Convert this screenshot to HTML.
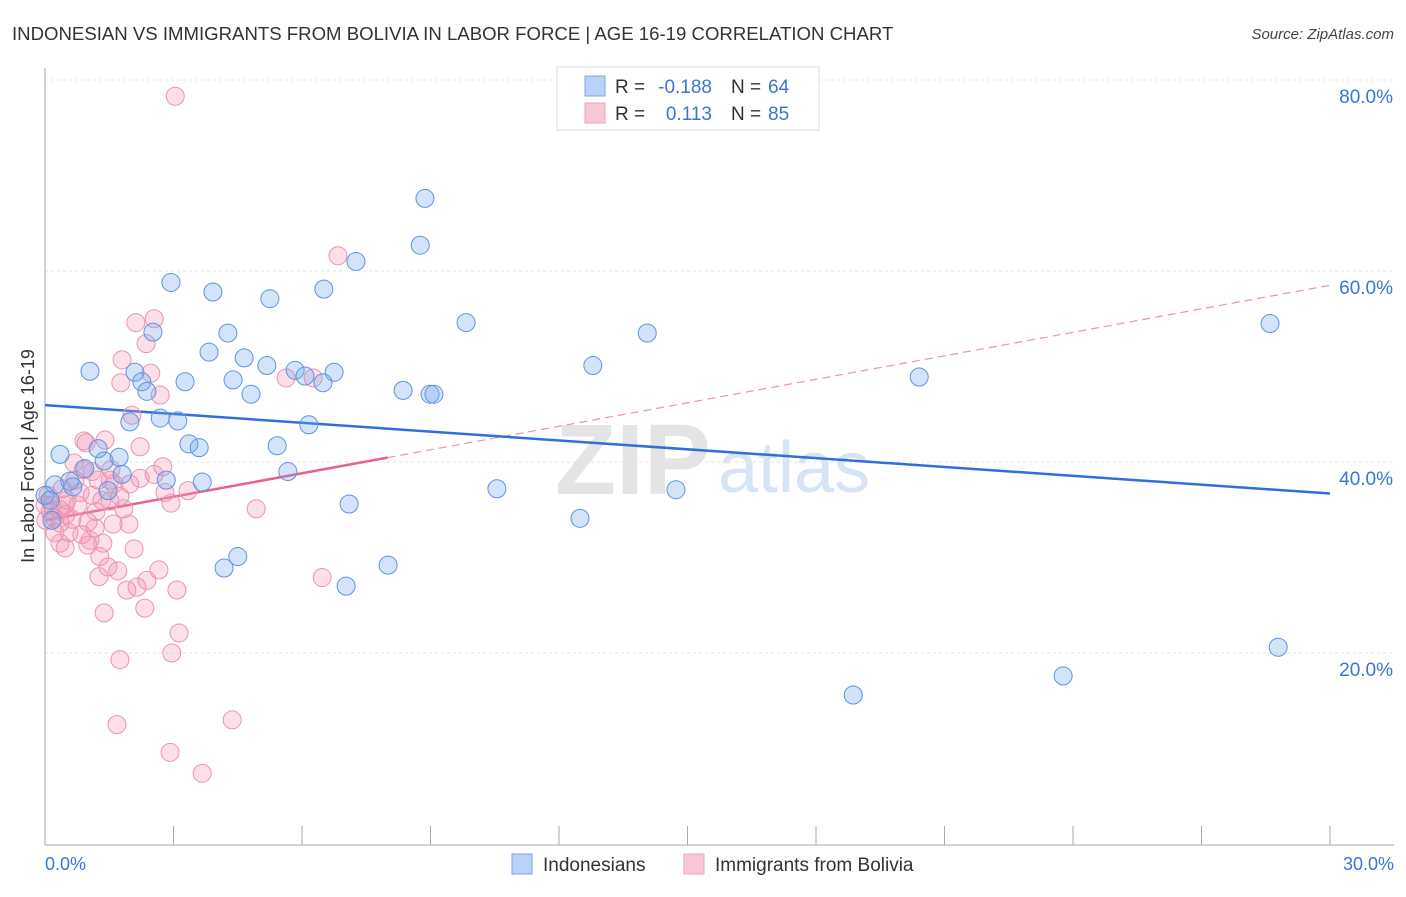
<!DOCTYPE html>
<html><head><meta charset="utf-8"><style>
body{margin:0;background:#fff;font-family:"Liberation Sans",sans-serif;}
svg text{font-family:"Liberation Sans",sans-serif;}
</style></head><body>
<svg id="chart" width="1406" height="892" viewBox="0 0 1406 892" xmlns="http://www.w3.org/2000/svg">
<text x="12" y="40" font-size="18.6" fill="#333">INDONESIAN VS IMMIGRANTS FROM BOLIVIA IN LABOR FORCE | AGE 16-19 CORRELATION CHART</text>
<text x="1394" y="39" font-size="15" fill="#444" font-style="italic" text-anchor="end">Source: ZipAtlas.com</text>
<g>
<text x="555" y="494" font-size="100" fill="#e4e4e4" font-family="Liberation Serif" font-weight="bold">ZIP</text>
<text x="718" y="492" font-size="72" fill="#d6e4f6">atlas</text>
</g>
<g id="grid"></g>
<g id="axes"></g>
<g id="trends"></g>
<g id="points"></g>
<text transform="translate(34,456) rotate(-90)" font-size="18" fill="#333" text-anchor="middle">In Labor Force | Age 16-19</text>
<text x="45" y="870" font-size="18" fill="#3a75d6">0.0%</text>
<text x="1394" y="870" font-size="18" fill="#3a75d6" text-anchor="end">30.0%</text>
<g>
<rect x="557" y="67" width="262" height="63" fill="#fff" stroke="#ddd"/>
<rect x="585" y="76" width="20" height="20" fill="#b8d3f7" stroke="#7aa7e6"/>
<rect x="585" y="103" width="20" height="20" fill="#f9c6d6" stroke="#eea0b8"/>
<text x="615" y="93" font-size="19" fill="#333">R =</text>
<text x="712" y="93" font-size="19" fill="#3a75d6" text-anchor="end">-0.188</text>
<text x="731" y="93" font-size="19" fill="#333">N =</text>
<text x="768" y="93" font-size="19" fill="#3a75d6">64</text>
<text x="615" y="120" font-size="19" fill="#333">R =</text>
<text x="712" y="120" font-size="19" fill="#3a75d6" text-anchor="end">0.113</text>
<text x="731" y="120" font-size="19" fill="#333">N =</text>
<text x="768" y="120" font-size="19" fill="#3a75d6">85</text>
</g>
<g>
<rect x="512" y="854" width="20" height="20" fill="#b8d3f7" stroke="#7aa7e6"/>
<text x="543" y="871" font-size="19" fill="#333">Indonesians</text>
<rect x="684" y="854" width="20" height="20" fill="#f9c6d6" stroke="#eea0b8"/>
<text x="715" y="871" font-size="19" fill="#333">Immigrants from Bolivia</text>
</g>
</svg>
<script>
const yTicks=[20,40,60,80];
const yTickLabels=["20.0%","40.0%","60.0%","80.0%"];
const xTicks=[3,6,9,12,15,18,21,24,27,30];
const blueX=[2.94,3.92,5.25,6.51,7.26,8.76,8.87,2.52,4.27,3.83,4.65,5.18,5.84,6.07,6.75,6.49,1.05,2.1,2.26,2.38,3.27,4.39,4.81,8.36,8.99,9.08,9.83,12.79,14.06,20.41,28.6,1.98,2.69,3.1,6.16,3.36,3.6,5.42,0.35,1.24,1.38,1.73,1.8,0.93,5.67,2.83,3.67,0.58,0.23,0.65,1.47,10.55,14.73,7.1,12.49,0,0.12,0.16,4.5,4.18,8.01,7.03,18.87,23.77,28.79];
const blueY=[58.8,57.8,57.1,58.1,61.0,62.7,67.6,53.6,53.5,51.5,50.9,50.1,49.6,49.0,49.4,48.3,49.5,49.4,48.4,47.4,48.4,48.6,47.1,47.5,47.1,47.1,54.6,50.1,53.5,48.9,54.5,44.2,44.6,44.3,43.9,41.9,41.5,41.7,40.8,41.4,40.1,40.5,38.7,39.3,39.0,38.1,37.9,38.0,37.6,37.4,37.0,37.2,37.1,35.6,34.1,36.5,36.0,33.9,30.1,28.9,29.2,27.0,15.6,17.6,20.6];
const pinkX=[3.04,6.84,2.55,2.12,2.36,1.8,2.47,1.77,2.69,2.03,0.91,0.96,2.22,0.68,1.54,2.75,2.55,1.98,3.34,1.61,1.10,1.33,1.52,2.8,2.94,0.89,1.24,4.93,5.63,6.26,0.07,0.16,0.35,0.49,0.63,0.02,0.23,0.47,1.19,1.84,1.0,1.59,1.96,0.56,0.86,0.35,0.47,1.05,1.35,2.08,1.0,1.28,1.47,1.26,1.7,2.66,2.38,2.15,1.91,3.08,2.33,1.38,3.13,2.96,1.75,1.68,2.92,3.67,4.37,6.47,1.4,0.7,0.35,0.12,0.77,1.17,1.52,2.22,1.75,0.51,0.23,0,1.1,0.4,0.82];
const pinkY=[78.3,61.6,55.0,54.6,52.4,50.7,49.3,48.3,47.0,44.9,42.2,42.0,41.6,39.9,39.2,39.5,38.7,37.7,37.0,37.7,36.5,36.0,35.9,36.8,35.7,39.2,38.1,35.1,48.8,48.8,36.5,35.5,35.0,34.5,34.0,33.9,34.1,35.5,34.8,35.1,33.7,33.5,33.5,32.6,32.4,31.5,31.0,31.8,31.5,30.9,31.3,30.1,29.0,28.0,28.6,28.7,27.6,26.9,26.6,26.6,24.7,24.2,22.1,20.0,19.3,12.5,9.6,7.4,13.0,27.9,42.3,38.1,33.6,34.8,35.5,33.1,38.1,38.3,36.4,36.0,32.6,35.5,39.0,37.2,36.8];
const blueTrend=[45.96,36.7];
const pinkTrend=[33.9,58.5];
const pinkSolidEnd=8;

const NS="http://www.w3.org/2000/svg";
const X=v=>45+v*1285/30;
const Y=v=>844-v*9.55;
function mk(tag,attrs,parent){const e=document.createElementNS(NS,tag);for(const k in attrs)e.setAttribute(k,attrs[k]);parent.appendChild(e);return e;}
const grid=document.getElementById('grid'),axes=document.getElementById('axes'),tr=document.getElementById('trends'),pts=document.getElementById('points');
yTicks.forEach((t,i)=>{
  const l=mk('line',{x1:45,x2:1394,y1:Y(t),y2:Y(t),stroke:'#e3e3e3','stroke-dasharray':'3,3'},grid);
  
  
  const tx=mk('text',{x:1393,y:Y(t)+23,'font-size':19,fill:'#3a75d6','text-anchor':'end'},grid);
  tx.textContent=yTickLabels[i];
  
  
});
const ya=mk('line',{x1:45,x2:45,y1:68,y2:845,stroke:'#aaa'},axes);


const xa=mk('line',{x1:45,x2:1394,y1:845,y2:845,stroke:'#aaa'},axes);


xTicks.forEach(t=>{
  const l=mk('line',{x1:X(t),x2:X(t),y1:826,y2:845,stroke:'#aaa'},axes);
  
  
});
function dot(x,y,fill,stroke,name){
  const c=mk('circle',{cx:X(x),cy:Y(y),r:9,fill:fill,stroke:stroke,'stroke-width':1},pts);
  
  
}
pinkX.forEach((x,i)=>dot(x,pinkY[i],'rgba(244,150,180,0.3)','#e995b0','bolivia-point'));
blueX.forEach((x,i)=>dot(x,blueY[i],'rgba(110,165,240,0.3)','#5f93e0','indonesian-point'));
const pt=v=>pinkTrend[0]+(pinkTrend[1]-pinkTrend[0])*v/30;
const pd=mk('line',{x1:X(pinkSolidEnd),y1:Y(pt(pinkSolidEnd)),x2:X(30),y2:Y(pinkTrend[1]),stroke:'#e995b0','stroke-width':1.2,'stroke-dasharray':'8,5'},tr);


const ps=mk('line',{x1:X(0),y1:Y(pinkTrend[0]),x2:X(pinkSolidEnd),y2:Y(pt(pinkSolidEnd)),stroke:'#e8608c','stroke-width':2.5},tr);


const bl=mk('line',{x1:X(0),y1:Y(blueTrend[0]),x2:X(30),y2:Y(blueTrend[1]),stroke:'#2f6fd6','stroke-width':2.5},tr);


</script>
</body></html>
